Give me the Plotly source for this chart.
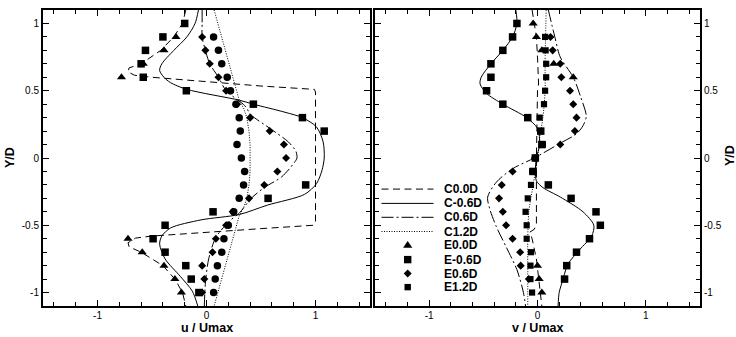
import plotly.graph_objects as go

# ---------------- data ----------------
# measurement stations across the wake (Y/D)
Y_EXP = [1.0, 0.9, 0.8, 0.7, 0.6, 0.5, 0.4, 0.3, 0.2, 0.1, 0.0,
         -0.1, -0.2, -0.3, -0.4, -0.5, -0.6, -0.7, -0.8, -0.9, -1.0]

# streamwise velocity u/Umax, experiment
U_E00 = [None, -0.28, -0.39, -0.58, -0.78,
         None, None, None, None, None, None, None, None, None, None, None,
         -0.72, -0.59, -0.39, -0.29, -0.23]
U_E06M = [-0.20, -0.40, -0.56, -0.60, -0.58, -0.185, 0.43, 0.88, 1.08, None, None,
          None, 0.91, 0.565, 0.06, -0.38, -0.49, -0.38, -0.19, -0.14, -0.07]
U_E06 = [None, -0.04, -0.01, 0.03, 0.11, 0.18, 0.28, 0.40, 0.58, 0.71, 0.73,
         0.65, 0.53, 0.39, 0.24, 0.18, 0.086, 0.055, -0.04, -0.02, -0.04]
U_E12 = [None, 0.065, 0.11, 0.14, 0.19, 0.22, 0.27, 0.30, 0.31, 0.28, 0.32,
         0.35, 0.34, 0.30, 0.25, 0.20, 0.16, 0.14, 0.10, 0.08, 0.065]

# transverse velocity v/Umax, experiment
V_E00 = [-0.04, -0.01, 0.04, 0.15, 0.33,
         None, None, None, None, None, None, None, None, None, None, None, None,
         None, 0.0, 0.015, 0.04]
V_E06M = [-0.19, -0.23, -0.32, -0.43, -0.43, -0.47, -0.32, -0.09, 0.03, 0.04, -0.02,
          -0.04, 0.10, 0.31, 0.54, 0.58, 0.48, 0.36, 0.27, 0.25, None]
V_E06 = [None, 0.12, 0.14, 0.21, 0.22, 0.30, 0.33, 0.36, 0.345, 0.21, -0.025,
         -0.23, -0.33, -0.355, -0.32, -0.29, -0.23, -0.16, -0.155, -0.08, None]
V_E12 = [None, 0.07, 0.075, 0.08, 0.08, 0.07, 0.06, 0.02, 0.03, 0.05, -0.02,
         -0.05, -0.06, -0.09, -0.11, -0.10, -0.10, -0.06, -0.065, -0.065, -0.05]

# computed profiles, u/Umax
U_C00 = [-0.19, -0.22, -0.30, -0.42, -0.60, -0.71, -0.72, -0.66, -0.50, 0.0, 0.5, 0.99,
         1.0, 1.0, 0.98, 0.5, 0.0, -0.5, -0.65, -0.72, -0.71, -0.60, -0.40, -0.29,
         -0.22, -0.19]
Y_C00 = [1.1, 1.0, 0.9, 0.8, 0.7, 0.67, 0.64, 0.615, 0.60, 0.565, 0.535, 0.51,
         0.49, -0.47, -0.50, -0.525, -0.55, -0.58, -0.595, -0.63, -0.66, -0.70, -0.80,
         -0.90, -1.0, -1.1]
U_C06M = [-0.074, -0.105, -0.18, -0.30, -0.41, -0.43, -0.39, -0.33, -0.18, 0.30, 0.43,
          0.72, 0.88, 1.01, 1.07, 1.08, 1.06, 1.01, 0.90, 0.56, 0.30, -0.05, -0.33,
          -0.41, -0.43, -0.38, -0.24, -0.13, -0.08]
Y_C06M = [1.1, 1.0, 0.9, 0.8, 0.7, 0.65, 0.6, 0.56, 0.51, 0.43, 0.40, 0.34, 0.30,
          0.23, 0.12, 0.0, -0.09, -0.19, -0.27, -0.35, -0.42, -0.46, -0.52, -0.58,
          -0.64, -0.75, -0.88, -0.99, -1.1]
U_C06 = [-0.04, -0.04, -0.04, -0.01, 0.03, 0.11, 0.18, 0.35, 0.41, 0.60, 0.75, 0.82,
         0.83, 0.80, 0.69, 0.53, 0.41, 0.30, 0.21, 0.086, 0.02, -0.01, -0.02]
Y_C06 = [1.1, 1.0, 0.9, 0.8, 0.7, 0.6, 0.5, 0.39, 0.32, 0.21, 0.12, 0.05, 0.0,
         -0.04, -0.14, -0.22, -0.30, -0.41, -0.47, -0.59, -0.75, -0.93, -1.1]
U_C12 = [0.07, 0.30, 0.34, 0.37, 0.39, 0.40, 0.40, 0.40, 0.39, 0.37, 0.34, 0.30, 0.07]
Y_C12 = [1.1, 0.43, 0.37, 0.30, 0.20, 0.10, 0.0, -0.10, -0.20, -0.30, -0.37, -0.43, -1.1]

# computed profiles, v/Umax
V_C00 = [-0.05, -0.03, -0.01, 0.0, 0.01, 0.0, -0.01, -0.01, -0.03, -0.07, -0.05,
         -0.01, 0.01, 0.03, 0.04]
Y_C00V = [1.1, 1.0, 0.9, 0.75, 0.55, 0.5, 0.0, -0.49, -0.53, -0.55, -0.6, -0.75,
          -0.9, -1.0, -1.1]
V_C06M = [-0.20, -0.19, -0.23, -0.32, -0.43, -0.52, -0.53, -0.47, -0.32, -0.10, 0.0,
          0.02, -0.01, -0.02, -0.01, 0.05, 0.21, 0.42, 0.52, 0.50, 0.39, 0.28, 0.24,
          0.20, 0.19]
Y_C06MV = [1.1, 1.0, 0.9, 0.8, 0.7, 0.6, 0.55, 0.48, 0.40, 0.30, 0.22, 0.1, 0.0,
           -0.1, -0.17, -0.22, -0.29, -0.40, -0.50, -0.58, -0.68, -0.79, -0.89, -1.0,
           -1.1]
V_C06 = [0.10, 0.16, 0.21, 0.33, 0.40, 0.45, 0.42, 0.36, 0.21, -0.03, -0.23, -0.38,
         -0.46, -0.44, -0.38, -0.29, -0.19, -0.13, -0.11]
Y_C06V = [1.1, 0.9, 0.75, 0.6, 0.45, 0.31, 0.24, 0.18, 0.11, 0.0, -0.08, -0.18,
          -0.29, -0.38, -0.51, -0.66, -0.83, -1.0, -1.1]
V_C12 = [0.08, 0.07, 0.07, 0.05, 0.02, 0.0, -0.04, -0.08, -0.09, -0.09, -0.09]
Y_C12V = [1.1, 0.7, 0.5, 0.3, 0.15, 0.0, -0.2, -0.4, -0.6, -0.8, -1.1]

X_TICKS = [-1, 0, 1]
X_TICK_TEXT = ["-1", "0", "1"]
Y_TICKS = [-1, -0.5, 0, 0.5, 1]
Y_TICK_TEXT = ["-1", "-0.5", "0", "0.5", "1"]

LEGEND_NAMES = ["C0.0D", "C-0.6D", "C0.6D", "C1.2D", "E0.0D", "E-0.6D", "E0.6D", "E1.2D"]

# ---------------- styling ----------------
FONT = "Liberation Sans, Arial, Helvetica, sans-serif"
W, H = 736, 337
ML, MR, MT, MB = 43, 36, 8, 31
PW, PH = W - ML - MR, H - MT - MB

DASH = {"C0.0D": "7px,4.5px", "C-0.6D": "solid",
        "C0.6D": "12px,3px,2px,3px", "C1.2D": "1px,1.5px"}
LINE_W = {"C0.0D": 1, "C-0.6D": 1, "C0.6D": 1, "C1.2D": 1}

fig = go.Figure()


def add_line(x, y, name, xa, ya, shape="linear"):
    fig.add_trace(go.Scatter(
        x=x, y=y, mode="lines", name=name, xaxis=xa, yaxis=ya,
        line=dict(color="black", width=LINE_W[name], dash=DASH[name],
                  shape=shape, smoothing=0.8),
        showlegend=False, hoverinfo="skip"))


def add_points(x, y, name, symbol, size, xa, ya):
    fig.add_trace(go.Scatter(
        x=x, y=y, mode="markers", name=name, xaxis=xa, yaxis=ya,
        marker=dict(symbol=symbol, size=size, color="black", line=dict(width=0)),
        showlegend=False, cliponaxis=False))


# left panel: u / Umax
add_line(U_C00, Y_C00, "C0.0D", "x", "y")
add_line(U_C06M, Y_C06M, "C-0.6D", "x", "y", "spline")
add_line(U_C06, Y_C06, "C0.6D", "x", "y", "spline")
add_line(U_C12, Y_C12, "C1.2D", "x", "y")
add_points(U_E00, Y_EXP, "E0.0D", "triangle-up", 8, "x", "y")
add_points(U_E06M, Y_EXP, "E-0.6D", "square", 7.5, "x", "y")
add_points(U_E06, Y_EXP, "E0.6D", "diamond", 6.2, "x", "y")
add_points(U_E12, Y_EXP, "E1.2D", "circle", 7.5, "x", "y")

# right panel: v / Umax
add_line(V_C00, Y_C00V, "C0.0D", "x2", "y2")
add_line(V_C06M, Y_C06MV, "C-0.6D", "x2", "y2", "spline")
add_line(V_C06, Y_C06V, "C0.6D", "x2", "y2", "spline")
add_line(V_C12, Y_C12V, "C1.2D", "x2", "y2", "spline")
add_points(V_E00, Y_EXP, "E0.0D", "triangle-up", 8, "x2", "y2")
add_points(V_E06M, Y_EXP, "E-0.6D", "square", 7.5, "x2", "y2")
add_points(V_E06, Y_EXP, "E0.6D", "diamond", 6.2, "x2", "y2")
add_points(V_E12, Y_EXP, "E1.2D", "square", 6.2, "x2", "y2")


def px_to_paper_x(px):
    return (px - ML) / PW


def px_to_paper_y(py):
    return (MT + PH - py) / PH


axis_common = dict(
    showline=True, linewidth=2, linecolor="black", mirror="allticks",
    ticks="inside", ticklen=6, tickwidth=1, tickcolor="black",
    showgrid=False, zeroline=False,
    tickfont=dict(family=FONT, size=10, color="black"),
)
x_common = dict(axis_common, range=[-1.5, 1.5], tickmode="array",
                tickvals=X_TICKS, ticktext=X_TICK_TEXT, ticklabelstandoff=-1,
                minor=dict(tickmode="linear", tick0=0, dtick=0.2, ticks="inside",
                           ticklen=4, tickwidth=1, tickcolor="black"))
y_common = dict(axis_common, range=[-1.1, 1.1], tickmode="array",
                tickvals=Y_TICKS, ticktext=Y_TICK_TEXT,
                minor=dict(tickmode="linear", tick0=0, dtick=0.1, ticks="inside",
                           ticklen=4, tickwidth=1, tickcolor="black"))

split_l = px_to_paper_x(370)
split_r = px_to_paper_x(375)

fig.update_layout(
    width=W, height=H,
    margin=dict(l=ML, r=MR, t=MT, b=MB, pad=0),
    paper_bgcolor="white", plot_bgcolor="white",
    font=dict(family=FONT, color="black"),
    showlegend=False,
    xaxis=dict(x_common, domain=[0, split_l], anchor="y"),
    yaxis=dict(y_common, domain=[0, 1], anchor="x", side="left"),
    xaxis2=dict(x_common, domain=[split_r, 1], anchor="y2"),
    yaxis2=dict(y_common, domain=[0, 1], anchor="x2", side="right"),
)

# axis titles
title_font = dict(family=FONT, size=12.5, color="black")
annos = [
    dict(text="<b>u / Umax</b>", x=split_l / 2, y=px_to_paper_y(328.5)),
    dict(text="<b>v / Umax</b>", x=(split_r + 1) / 2, y=px_to_paper_y(328.5)),
    dict(text="<b>Y/D</b>", x=px_to_paper_x(10), y=px_to_paper_y(157), textangle=-90),
    dict(text="<b>Y/D</b>", x=px_to_paper_x(730), y=px_to_paper_y(155), textangle=-90),
]
for a in annos:
    fig.add_annotation(xref="paper", yref="paper", showarrow=False,
                       xanchor="center", yanchor="middle", font=title_font, **a)

# legend block inside the right panel
LEG_ROWS_PX = [188.3, 202.7, 216.7, 231.0, 245.0, 259.3, 273.3, 287.0]
LEG_LINE_X0, LEG_LINE_X1, LEG_MARK_X, LEG_TEXT_X = 381.5, 433.5, 407.7, 441.5
legend_markers = {
    "E0.0D": ("M-4.6,-2.4 L4.6,-2.4 L0,4.4 Z"),
    "E-0.6D": ("M-3.7,-3.7 L3.7,-3.7 L3.7,3.7 L-3.7,3.7 Z"),
    "E0.6D": ("M-4,0 L0,4 L4,0 L0,-4 Z"),
    "E1.2D": ("M-3.2,-3.2 L3.2,-3.2 L3.2,3.2 L-3.2,3.2 Z"),
}
for name, py in zip(LEGEND_NAMES, LEG_ROWS_PX):
    yp = px_to_paper_y(py)
    if name in DASH:
        fig.add_shape(type="line", xref="paper", yref="paper",
                      x0=px_to_paper_x(LEG_LINE_X0), x1=px_to_paper_x(LEG_LINE_X1),
                      y0=yp, y1=yp,
                      line=dict(color="black", width=1, dash=DASH[name]))
    else:
        fig.add_shape(type="path", xref="paper", yref="paper",
                      xsizemode="pixel", ysizemode="pixel",
                      xanchor=px_to_paper_x(LEG_MARK_X), yanchor=yp,
                      path=legend_markers[name],
                      fillcolor="black", line=dict(width=0))
    fig.add_annotation(xref="paper", yref="paper", showarrow=False,
                       x=px_to_paper_x(LEG_TEXT_X), y=yp,
                       xanchor="left", yanchor="middle",
                       text="<b>%s</b>" % name,
                       font=dict(family=FONT, size=12, color="black"))

fig.write_html("out.html", include_plotlyjs=True, config={"displayModeBar": False})
